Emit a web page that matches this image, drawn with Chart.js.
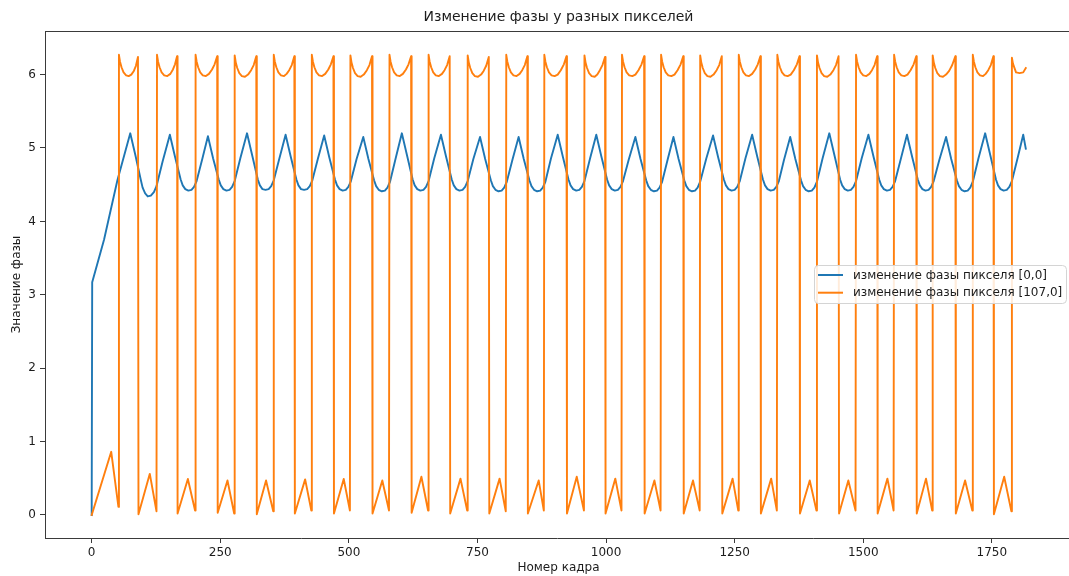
<!DOCTYPE html>
<html>
<head>
<meta charset="utf-8">
<script src="https://cdn.jsdelivr.net/npm/chart.js@4/dist/chart.umd.min.js"></script>
<style>
  html, body { margin: 0; padding: 0; background: #ffffff; overflow: hidden; }
  #wrap { width: 1069px; height: 576px; position: relative; }
</style>
</head>
<body>
<div id="wrap"><canvas id="c" width="1069" height="576"></canvas></div>
<script>
// Phase of pixel [0,0] (unwrapped) — frame numbers and values
const frames0 = [
  0, 1, 24, 50,
  75, 85, 95, 99, 104, 109, 115, 121, 126, 138,
  152, 162, 173, 177, 182, 188, 194, 199, 204, 215,
  226, 236, 247, 251, 256, 262, 268, 273, 278, 289,
  302, 312, 323, 327, 332, 338, 344, 349, 354, 365,
  377, 387, 398, 402, 407, 413, 419, 424, 429, 440,
  452, 462, 473, 477, 482, 488, 494, 499, 504, 515,
  528, 538, 549, 553, 558, 564, 570, 575, 580, 591,
  603, 613, 624, 628, 633, 639, 645, 650, 655, 666,
  679, 689, 700, 704, 709, 715, 721, 726, 731, 742,
  755, 765, 776, 780, 785, 791, 797, 802, 807, 818,
  830, 840, 851, 855, 860, 866, 872, 877, 882, 893,
  906, 916, 927, 931, 936, 942, 948, 953, 958, 969,
  981, 991, 1002, 1006, 1011, 1017, 1023, 1028, 1033, 1044,
  1057, 1067, 1078, 1082, 1087, 1093, 1099, 1104, 1109, 1120,
  1131, 1141, 1152, 1156, 1161, 1167, 1173, 1178, 1183, 1195,
  1208, 1218, 1229, 1233, 1238, 1244, 1250, 1255, 1260, 1271,
  1284, 1294, 1305, 1309, 1314, 1320, 1326, 1331, 1336, 1346,
  1358, 1368, 1379, 1383, 1388, 1394, 1400, 1405, 1410, 1421,
  1434, 1444, 1455, 1459, 1464, 1470, 1476, 1481, 1486, 1497,
  1510, 1520, 1531, 1535, 1540, 1546, 1552, 1557, 1562, 1573,
  1585, 1595, 1606, 1610, 1615, 1621, 1627, 1632, 1637, 1648,
  1661, 1671, 1682, 1686, 1691, 1697, 1703, 1708, 1713, 1724,
  1737, 1747, 1758, 1762, 1767, 1773, 1779, 1784, 1789, 1800,
  1811, 1816
];
const phase0 = [
  0.00, 3.17, 3.75, 4.56,
  5.20, 4.90, 4.58, 4.46, 4.38, 4.34, 4.35, 4.40, 4.48, 4.82,
  5.18, 4.88, 4.57, 4.49, 4.44, 4.42, 4.43, 4.47, 4.55, 4.85,
  5.16, 4.86, 4.57, 4.49, 4.44, 4.42, 4.43, 4.47, 4.55, 4.86,
  5.20, 4.90, 4.57, 4.49, 4.44, 4.43, 4.44, 4.48, 4.56, 4.86,
  5.18, 4.88, 4.57, 4.49, 4.44, 4.43, 4.44, 4.48, 4.56, 4.86,
  5.17, 4.87, 4.57, 4.49, 4.44, 4.42, 4.43, 4.47, 4.55, 4.85,
  5.15, 4.85, 4.56, 4.48, 4.43, 4.41, 4.42, 4.46, 4.54, 4.86,
  5.20, 4.90, 4.57, 4.49, 4.44, 4.42, 4.43, 4.47, 4.55, 4.86,
  5.18, 4.88, 4.57, 4.49, 4.44, 4.42, 4.43, 4.47, 4.55, 4.85,
  5.15, 4.85, 4.56, 4.48, 4.43, 4.41, 4.42, 4.46, 4.54, 4.84,
  5.15, 4.85, 4.56, 4.48, 4.43, 4.41, 4.42, 4.46, 4.54, 4.86,
  5.18, 4.88, 4.57, 4.49, 4.44, 4.42, 4.43, 4.47, 4.55, 4.86,
  5.18, 4.88, 4.57, 4.49, 4.44, 4.42, 4.43, 4.47, 4.55, 4.84,
  5.15, 4.85, 4.56, 4.48, 4.43, 4.41, 4.42, 4.46, 4.54, 4.85,
  5.15, 4.85, 4.56, 4.48, 4.43, 4.41, 4.42, 4.46, 4.54, 4.86,
  5.17, 4.87, 4.57, 4.49, 4.44, 4.42, 4.43, 4.47, 4.55, 4.86,
  5.18, 4.88, 4.57, 4.49, 4.44, 4.42, 4.43, 4.47, 4.55, 4.84,
  5.15, 4.85, 4.56, 4.48, 4.43, 4.41, 4.42, 4.46, 4.54, 4.86,
  5.20, 4.90, 4.57, 4.49, 4.44, 4.42, 4.43, 4.47, 4.55, 4.86,
  5.18, 4.88, 4.57, 4.49, 4.44, 4.42, 4.43, 4.47, 4.55, 4.85,
  5.18, 4.88, 4.57, 4.49, 4.44, 4.42, 4.43, 4.47, 4.55, 4.84,
  5.15, 4.85, 4.56, 4.48, 4.43, 4.41, 4.42, 4.46, 4.54, 4.86,
  5.20, 4.90, 4.57, 4.49, 4.44, 4.42, 4.43, 4.47, 4.55, 4.86,
  5.18, 4.99
];

// Phase of pixel [107,0] (wrapped to 0..2π) — frame numbers and values
const frames107 = [
  0, 38, 52,
  53, 55, 58, 62, 67, 72, 77, 82, 86, 90,   91, 113, 126,
  127, 129, 132, 136, 141, 147, 153, 158, 162, 166,   167, 187, 201,
  202, 204, 207, 211, 216, 222, 228, 234, 239, 244,   245, 264, 277,
  278, 280, 283, 287, 292, 298, 304, 310, 315, 320,   321, 339, 353,
  354, 356, 359, 363, 368, 374, 379, 384, 389, 394,   395, 415, 427,
  428, 430, 433, 437, 442, 448, 454, 460, 465, 470,   471, 490, 502,
  503, 505, 508, 512, 517, 523, 529, 535, 540, 545,   546, 565, 578,
  579, 581, 584, 588, 593, 599, 605, 611, 616, 621,   622, 641, 654,
  655, 657, 660, 664, 669, 675, 681, 686, 691, 696,   697, 717, 730,
  731, 733, 736, 740, 745, 751, 757, 762, 767, 772,   773, 793, 805,
  806, 808, 811, 815, 820, 826, 832, 837, 842, 847,   848, 869, 879,
  880, 882, 885, 889, 894, 900, 906, 912, 918, 923,   924, 943, 957,
  958, 960, 963, 967, 972, 978, 983, 988, 993, 998,   999, 1018, 1030,
  1031, 1033, 1036, 1040, 1045, 1051, 1057, 1063, 1069, 1074,   1075, 1094, 1106,
  1107, 1109, 1112, 1116, 1121, 1127, 1133, 1139, 1145, 1150,   1151, 1169, 1182,
  1183, 1185, 1188, 1192, 1197, 1203, 1209, 1215, 1220, 1225,   1226, 1246, 1257,
  1258, 1260, 1263, 1267, 1272, 1278, 1284, 1290, 1295, 1300,   1301, 1321, 1332,
  1333, 1335, 1338, 1342, 1347, 1353, 1359, 1365, 1371, 1376,   1377, 1396, 1409,
  1410, 1412, 1415, 1419, 1424, 1430, 1436, 1442, 1447, 1452,   1453, 1471, 1485,
  1486, 1488, 1491, 1495, 1500, 1506, 1512, 1517, 1522, 1527,   1528, 1547, 1559,
  1560, 1562, 1565, 1569, 1574, 1580, 1586, 1592, 1598, 1603,   1604, 1622, 1634,
  1635, 1637, 1640, 1644, 1649, 1655, 1661, 1667, 1673, 1679,   1680, 1698, 1712,
  1713, 1715, 1718, 1722, 1727, 1733, 1738, 1743, 1748, 1753,   1754, 1774, 1788,
  1789, 1791, 1797, 1804, 1811, 1816
];
const phase107 = [
  0.00, 0.86, 0.11,
  6.27, 6.18, 6.10, 6.03, 5.99, 5.98, 6.00, 6.05, 6.12, 6.24,   0.01, 0.56, 0.05,
  6.27, 6.18, 6.10, 6.03, 5.99, 5.98, 6.01, 6.07, 6.14, 6.25,   0.02, 0.49, 0.06,
  6.27, 6.18, 6.10, 6.03, 5.99, 5.98, 6.01, 6.07, 6.14, 6.25,   0.03, 0.47, 0.02,
  6.26, 6.17, 6.09, 6.02, 5.98, 5.97, 6.00, 6.06, 6.13, 6.25,   0.01, 0.47, 0.05,
  6.27, 6.18, 6.10, 6.03, 5.99, 5.98, 6.01, 6.06, 6.13, 6.25,   0.02, 0.485, 0.06,
  6.27, 6.18, 6.10, 6.03, 5.99, 5.98, 6.01, 6.07, 6.14, 6.25,   0.02, 0.49, 0.06,
  6.26, 6.17, 6.09, 6.02, 5.98, 5.97, 6.00, 6.06, 6.13, 6.25,   0.02, 0.47, 0.06,
  6.27, 6.18, 6.10, 6.03, 5.99, 5.98, 6.01, 6.07, 6.14, 6.25,   0.03, 0.52, 0.06,
  6.27, 6.18, 6.10, 6.03, 5.99, 5.98, 6.01, 6.06, 6.13, 6.25,   0.02, 0.495, 0.06,
  6.26, 6.17, 6.09, 6.02, 5.98, 5.97, 6.00, 6.05, 6.12, 6.24,   0.02, 0.495, 0.05,
  6.27, 6.18, 6.10, 6.03, 5.99, 5.98, 6.01, 6.06, 6.13, 6.25,   0.02, 0.47, 0.06,
  6.27, 6.18, 6.10, 6.03, 5.99, 5.98, 6.00, 6.06, 6.14, 6.25,   0.02, 0.52, 0.06,
  6.26, 6.17, 6.09, 6.02, 5.98, 5.97, 6.00, 6.06, 6.13, 6.24,   0.02, 0.495, 0.06,
  6.27, 6.18, 6.10, 6.03, 5.99, 5.98, 6.00, 6.06, 6.14, 6.25,   0.02, 0.47, 0.06,
  6.27, 6.18, 6.10, 6.03, 5.99, 5.98, 6.00, 6.06, 6.14, 6.25,   0.02, 0.47, 0.06,
  6.26, 6.17, 6.09, 6.02, 5.98, 5.97, 6.00, 6.06, 6.13, 6.25,   0.02, 0.495, 0.06,
  6.27, 6.18, 6.10, 6.03, 5.99, 5.98, 6.01, 6.07, 6.14, 6.25,   0.02, 0.495, 0.06,
  6.27, 6.18, 6.10, 6.03, 5.99, 5.98, 6.00, 6.06, 6.14, 6.25,   0.02, 0.47, 0.06,
  6.26, 6.17, 6.09, 6.02, 5.98, 5.97, 6.00, 6.06, 6.13, 6.25,   0.02, 0.47, 0.06,
  6.27, 6.18, 6.10, 6.03, 5.99, 5.98, 6.01, 6.06, 6.13, 6.25,   0.02, 0.495, 0.06,
  6.27, 6.18, 6.10, 6.03, 5.99, 5.98, 6.00, 6.06, 6.14, 6.25,   0.02, 0.495, 0.06,
  6.26, 6.17, 6.09, 6.02, 5.98, 5.97, 6.00, 6.05, 6.13, 6.25,   0.02, 0.47, 0.06,
  6.27, 6.18, 6.10, 6.03, 5.99, 5.98, 6.01, 6.06, 6.13, 6.25,   0.01, 0.52, 0.05,
  6.23, 6.15, 6.03, 6.02, 6.03, 6.09
];

const seriesLabels = ['изменение фазы пикселя [0,0]', 'изменение фазы пикселя [107,0]'];
const seriesColors = ['#1f77b4', '#ff7f0e'];
const xTicks = [0, 250, 500, 750, 1000, 1250, 1500, 1750];
const yTicks = [0, 1, 2, 3, 4, 5, 6];
const chartTitle = 'Изменение фазы у разных пикселей';
const xTitle = 'Номер кадра';
const yTitle = 'Значение фазы';

const FONT = '"DejaVu Sans", "Liberation Sans", sans-serif';
const TEXT = '#1c1c1c';
const SPINE = '#3a3a3a';

function points(xs, ys) { return xs.map((x, i) => ({ x: x, y: ys[i] })); }

// Title, axis titles, top frame line and the legend box
const decorations = {
  id: 'decorations',
  afterDraw(chart) {
    const ctx = chart.ctx;
    const a = chart.chartArea;
    ctx.save();
    // top spine
    ctx.strokeStyle = SPINE;
    ctx.lineWidth = 1;
    ctx.beginPath();
    ctx.moveTo(a.left, a.top + 0.5);
    ctx.lineTo(a.right, a.top + 0.5);
    ctx.stroke();

    ctx.fillStyle = TEXT;
    ctx.textAlign = 'center';
    ctx.textBaseline = 'middle';
    ctx.font = '14px ' + FONT;
    ctx.fillText(chartTitle, 558.5, 17);

    ctx.font = '12px ' + FONT;
    ctx.fillText(xTitle, 558.5, 568);

    ctx.save();
    ctx.translate(17, 284.5);
    ctx.rotate(-Math.PI / 2);
    ctx.fillText(yTitle, 0, 0);
    ctx.restore();

    // legend
    const bx = 814.5, by = 265.5, bw = 252, bh = 38, r = 4;
    ctx.beginPath();
    ctx.moveTo(bx + r, by);
    ctx.lineTo(bx + bw - r, by);
    ctx.quadraticCurveTo(bx + bw, by, bx + bw, by + r);
    ctx.lineTo(bx + bw, by + bh - r);
    ctx.quadraticCurveTo(bx + bw, by + bh, bx + bw - r, by + bh);
    ctx.lineTo(bx + r, by + bh);
    ctx.quadraticCurveTo(bx, by + bh, bx, by + bh - r);
    ctx.lineTo(bx, by + r);
    ctx.quadraticCurveTo(bx, by, bx + r, by);
    ctx.closePath();
    ctx.fillStyle = 'rgba(255,255,255,0.85)';
    ctx.fill();
    ctx.strokeStyle = '#d4d4d4';
    ctx.lineWidth = 1;
    ctx.stroke();

    const rowsY = [275, 292.7];
    ctx.font = '12px ' + FONT;
    ctx.textAlign = 'left';
    ctx.textBaseline = 'middle';
    for (let i = 0; i < seriesLabels.length; i++) {
      ctx.strokeStyle = seriesColors[i];
      ctx.lineWidth = 2;
      ctx.beginPath();
      ctx.moveTo(818, rowsY[i]);
      ctx.lineTo(843, rowsY[i]);
      ctx.stroke();
      ctx.fillStyle = TEXT;
      ctx.fillText(seriesLabels[i], 853, rowsY[i] + 0.5);
    }
    ctx.restore();
  }
};

const tickFont = { family: FONT, size: 12 };

const lineStyle = {
  borderWidth: 1.9,
  pointRadius: 0,
  tension: 0,
  fill: false,
  borderJoinStyle: 'round',
  borderCapStyle: 'square'
};

new Chart(document.getElementById('c'), {
  type: 'line',
  data: {
    datasets: [
      Object.assign({
        label: seriesLabels[0],
        data: points(frames0, phase0),
        borderColor: seriesColors[0],
        order: 1
      }, lineStyle),
      Object.assign({
        label: seriesLabels[1],
        data: points(frames107, phase107),
        borderColor: seriesColors[1],
        order: 0
      }, lineStyle)
    ]
  },
  options: {
    responsive: false,
    animation: false,
    devicePixelRatio: 1,
    parsing: false,
    layout: { padding: { top: 31, left: 0, right: 0, bottom: 0 } },
    plugins: {
      legend: { display: false },
      tooltip: { enabled: false },
      title: { display: false }
    },
    scales: {
      x: {
        type: 'linear',
        min: -90.75,
        max: 1900,
        afterBuildTicks(s) { s.ticks = xTicks.map(v => ({ value: v })); },
        afterFit(s) { s.height = 38; },
        grid: { drawOnChartArea: false, drawTicks: true, tickLength: 5, color: SPINE, tickWidth: 1 },
        border: { display: true, color: SPINE, width: 1 },
        ticks: { font: tickFont, color: TEXT, padding: 3, maxRotation: 0, autoSkip: false,
                 callback: v => String(v) }
      },
      y: {
        type: 'linear',
        min: -0.314,
        max: 6.594,
        afterBuildTicks(s) { s.ticks = yTicks.map(v => ({ value: v })); },
        afterFit(s) { s.width = 45; },
        grid: { drawOnChartArea: false, drawTicks: true, tickLength: 5, color: SPINE, tickWidth: 1 },
        border: { display: true, color: SPINE, width: 1 },
        ticks: { font: tickFont, color: TEXT, padding: 4, autoSkip: false,
                 callback: v => String(v) }
      }
    }
  },
  plugins: [decorations]
});
</script>
</body>
</html>
